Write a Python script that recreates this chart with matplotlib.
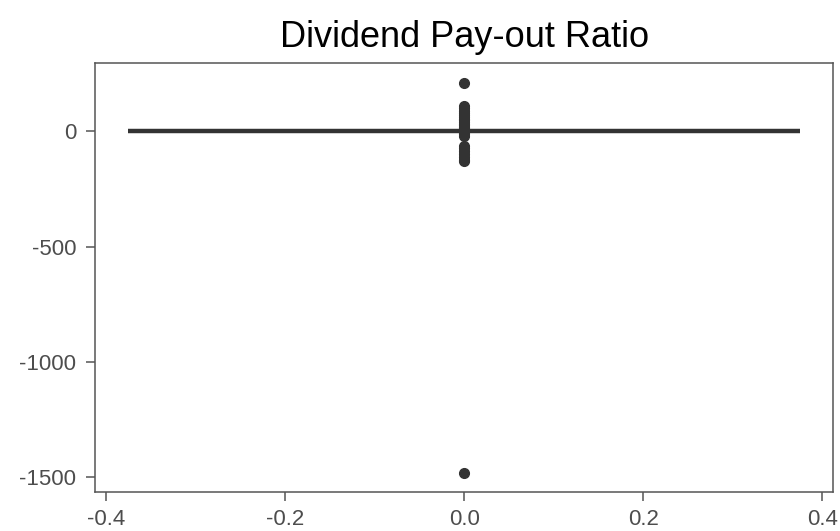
import matplotlib
matplotlib.use("Agg")
import matplotlib.pyplot as plt
import numpy as np

plt.rcParams['font.family'] = ['Liberation Sans', 'DejaVu Sans']

title = "Dividend Pay-out Ratio"

# Pay-out ratios (%): the bulk sits at zero, the rest are spread outliers
bulk_values = [0.0] * 40
outlier_values = [212, 110, 100, 90, 80, 70, 62, 55, 48, 40, 33, 27, 20, 14, 8,
                  -5, -12, -20, -62, -72, -85, -98, -110, -122, -130, -1482]
payout_ratio = np.array(bulk_values + outlier_values, dtype=float)

x_ticks = [-0.4, -0.2, 0.0, 0.2, 0.4]
y_ticks = [0, -500, -1000, -1500]

fig = plt.figure(figsize=(8.4, 5.31), dpi=100)
ax = fig.add_axes([0.113, 0.0734, 0.879, 0.8076])

ink = "#333333"
ax.boxplot(payout_ratio, positions=[0.0], widths=0.75, whis=1.5,
           patch_artist=True, manage_ticks=False,
           boxprops=dict(facecolor="white", edgecolor=ink, linewidth=1.2),
           medianprops=dict(color=ink, linewidth=3.2, solid_capstyle="butt"),
           whiskerprops=dict(color=ink, linewidth=1.2),
           capprops=dict(linewidth=0),
           flierprops=dict(marker="o", markerfacecolor=ink, markeredgecolor=ink,
                           markersize=7, linestyle="none"))

data_min, data_max = payout_ratio.min(), payout_ratio.max()
pad = 0.05 * (data_max - data_min)
ax.set_ylim(data_min - pad, data_max + pad)
ax.set_xlim(-0.375 - 0.0375, 0.375 + 0.0375)

ax.set_xticks(x_ticks)
ax.set_xticklabels([f"{v:.1f}" for v in x_ticks])
ax.set_yticks(y_ticks)
ax.set_yticklabels([str(v) for v in y_ticks])

for spine in ax.spines.values():
    spine.set_color("#555555")
    spine.set_linewidth(1.1)
ax.tick_params(axis="both", colors="#555555", labelcolor="#4D4D4D",
               labelsize=16, length=6.5, width=1.1)
ax.tick_params(axis="y", pad=7)
ax.tick_params(axis="x", pad=6)

ax.set_title(title, fontsize=26, color="black", pad=12)

fig.savefig("out.png", dpi=100, facecolor="white")
